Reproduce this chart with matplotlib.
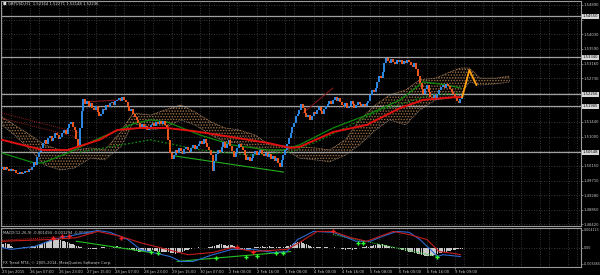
import matplotlib
matplotlib.use("Agg")
import matplotlib.pyplot as plt
import numpy as np

# ---- data (GBPUSD, H1) ----
closes = [
    1.5010, 1.5003, 1.5012, 1.5006, 1.4999,
    1.5005, 1.4998, 1.5002, 1.4994, 1.4990, 1.4996, 1.4989, 1.4993, 1.4999, 1.4995, 1.5004, 1.5001,
    1.5012, 1.5026, 1.5018, 1.5040, 1.5055, 1.5068,
    1.5082, 1.5090, 1.5078, 1.5096, 1.5101, 1.5088, 1.5095, 1.5110, 1.5104, 1.5092, 1.5099, 1.5112,
    1.5120, 1.5108, 1.5126, 1.5138, 1.5145, 1.5130, 1.5119,
    1.5092, 1.5072,
    1.5125, 1.5175, 1.5212,
    1.5198, 1.5206, 1.5190, 1.5201, 1.5185, 1.5178, 1.5190, 1.5172, 1.5160, 1.5168, 1.5182, 1.5179,
    1.5195, 1.5188, 1.5199, 1.5203, 1.5194, 1.5205, 1.5210,
    1.5214, 1.5206, 1.5216, 1.5209, 1.5202,
    1.5190, 1.5175, 1.5181, 1.5166, 1.5158, 1.5150,
    1.5142, 1.5130, 1.5137, 1.5125, 1.5133, 1.5121, 1.5128,
    1.5135, 1.5141, 1.5132, 1.5144, 1.5138, 1.5146, 1.5139, 1.5147, 1.5136, 1.5130,
    1.5090, 1.5052, 1.5034,
    1.5045, 1.5060, 1.5052, 1.5066, 1.5058, 1.5049, 1.5063, 1.5071, 1.5060, 1.5054, 1.5068, 1.5075,
    1.5065, 1.5072, 1.5080,
    1.5088, 1.5078, 1.5094, 1.5083, 1.5070, 1.5062,
    1.5045, 1.5000, 1.5030, 1.5048, 1.5062, 1.5055,
    1.5070, 1.5084, 1.5066, 1.5078, 1.5090, 1.5072, 1.5058, 1.5040, 1.5052, 1.5066, 1.5080, 1.5071, 1.5060,
    1.5045, 1.5032, 1.5040, 1.5028, 1.5036,
    1.5048, 1.5058, 1.5046, 1.5055, 1.5062, 1.5050, 1.5044, 1.5052,
    1.5040, 1.5048, 1.5035, 1.5042, 1.5030, 1.5038, 1.5022, 1.5010,
    1.5032, 1.5046, 1.5060, 1.5078, 1.5095, 1.5112, 1.5130, 1.5142, 1.5160, 1.5168,
    1.5178, 1.5196, 1.5185,
    1.5170, 1.5158, 1.5163, 1.5150, 1.5160,
    1.5172, 1.5166, 1.5180, 1.5188, 1.5175, 1.5168, 1.5182, 1.5192,
    1.5198, 1.5205, 1.5196, 1.5210, 1.5218, 1.5206, 1.5214, 1.5202,
    1.5195, 1.5188, 1.5200, 1.5184, 1.5192, 1.5205, 1.5198, 1.5186, 1.5194, 1.5202, 1.5196,
    1.5190, 1.5198, 1.5192, 1.5200, 1.5206,
    1.5224, 1.5238, 1.5232, 1.5244,
    1.5262, 1.5280, 1.5274, 1.5290,
    1.5318, 1.5332,
    1.5325, 1.5318, 1.5329, 1.5322, 1.5314, 1.5326, 1.5320, 1.5328, 1.5316, 1.5323, 1.5319, 1.5327,
    1.5320, 1.5312, 1.5306, 1.5318, 1.5300,
    1.5280, 1.5258, 1.5240, 1.5226,
    1.5240, 1.5252, 1.5232, 1.5218,
    1.5214, 1.5222, 1.5208, 1.5226,
    1.5238, 1.5246, 1.5252, 1.5244, 1.5256, 1.5250, 1.5240,
    1.5232, 1.5226,
    1.5214, 1.5205, 1.5200, 1.5212,
    1.5224,
]
first_open = 1.5005

# ichimoku cloud (bar index, senkou A, senkou B)
cloud_idx = [0, 7, 16, 24, 33, 41, 50, 58, 67, 74, 84, 92, 101, 109, 118, 126, 134, 143, 151,
             160, 168, 177, 185, 194, 202, 211, 219, 228, 236, 245, 253, 259, 264, 270, 279, 287]
span_a = [1.5158, 1.5135, 1.5105, 1.5076, 1.5061, 1.5061, 1.5067, 1.5061, 1.5114, 1.5170, 1.5164,
          1.5179, 1.5194, 1.5173, 1.5144, 1.5126, 1.5120, 1.5105, 1.5076, 1.5073, 1.5070, 1.5067,
          1.5061, 1.5091, 1.5150, 1.5194, 1.5223, 1.5238, 1.5268, 1.5273, 1.5291, 1.5303, 1.5303,
          1.5273, 1.5273, 1.5279]
span_b = [1.5135, 1.5105, 1.5061, 1.5017, 1.5002, 1.5008, 1.5037, 1.5032, 1.5070, 1.5141, 1.5120,
          1.5126, 1.5150, 1.5135, 1.5105, 1.5085, 1.5082, 1.5067, 1.5055, 1.5061, 1.5037, 1.5032,
          1.5026, 1.5046, 1.5076, 1.5120, 1.5150, 1.5135, 1.5179, 1.5209, 1.5214, 1.5223, 1.5262,
          1.5253, 1.5256, 1.5262]

# moving averages
ma_red_idx = [0, 23, 37, 55, 65, 78, 93, 108, 130, 150, 163, 168, 187, 206, 225, 238, 256, 259]
ma_red = [1.5091, 1.5061, 1.5061, 1.5091, 1.5120, 1.5126, 1.5126, 1.5117, 1.5099, 1.5082, 1.5067,
          1.5070, 1.5114, 1.5135, 1.5185, 1.5209, 1.5217, 1.5217]
ma_green_idx = [0, 18, 23, 37, 55, 74, 84, 93, 112, 130, 150, 159, 168, 187, 206, 225, 238, 251, 259]
ma_green = [1.5052, 1.5023, 1.5023, 1.5052, 1.5096, 1.5138, 1.5150, 1.5144, 1.5105, 1.5076, 1.5061,
            1.5061, 1.5076, 1.5126, 1.5164, 1.5209, 1.5262, 1.5253, 1.5244]
ma_dot_idx = [44, 84, 112, 140, 163, 180, 197, 214, 242, 259]
ma_dot = [1.5055, 1.5091, 1.5061, 1.5046, 1.5055, 1.5091, 1.5135, 1.5179, 1.5223, 1.5229]

# trend lines drawn on the chart: (start idx, start price, end idx, end price)
red_dot_lines = [(0, 1.5170, 44, 1.5111), (0, 1.5155, 42, 1.5099)]
red_lines = [(48, 1.5203, 67, 1.5209), (170, 1.5170, 187, 1.5244)]
green_lines = [(98, 1.5043, 159, 1.4996)]
zigzag_idx = [260, 264, 268]
zigzag = [1.5217, 1.5297, 1.5253]

levels = [1.54550, 1.53340, 1.52256, 1.51905, 1.50548]
price_ticks = [1.48420, 1.48850, 1.49280, 1.49710, 1.50150, 1.50570, 1.51000, 1.51440, 1.51870,
               1.52300, 1.52730, 1.53160, 1.53590, 1.54030, 1.54460, 1.54890]
hidden_ticks = [1.50570, 1.51870, 1.52300, 1.54460]  # covered by the level price boxes

time_labels = ["23 Jan 2015", "26 Jan 07:00", "26 Jan 23:00", "27 Jan 15:00", "28 Jan 07:00",
               "28 Jan 23:00", "29 Jan 15:00", "30 Jan 07:00", "2 Feb 00:00", "2 Feb 16:00",
               "3 Feb 08:00", "4 Feb 00:00", "4 Feb 16:00", "5 Feb 08:00", "6 Feb 00:00",
               "6 Feb 16:00", "9 Feb 09:00"]

# MACD(12,26,9)
macd_idx = [0, 5, 18, 29, 42, 54, 61, 71, 78, 85, 95, 101, 108, 119, 130, 142, 153, 161, 167,
            176, 187, 193, 200, 208, 215, 223, 230, 236, 242, 246, 249, 259]
macd_main = [0.0001, -0.0003, 0.0003, 0.0019, 0.0030, 0.0039, 0.0035, 0.0019, -0.0003, -0.0010,
             -0.0019, -0.0030, -0.0030, -0.0015, -0.0003, -0.0003, -0.0010, -0.0008, 0.0019,
             0.0037, 0.0035, 0.0026, 0.0015, 0.0015, 0.0026, 0.0037, 0.0035, 0.0019, -0.0003,
             -0.0019, -0.0015, -0.0019]
sig_idx = [0, 28, 42, 54, 67, 78, 93, 105, 119, 130, 142, 161, 168, 178, 187, 197, 206, 221, 230,
           240, 247, 255, 259]
macd_signal = [0.0015, 0.0019, 0.0023, 0.0037, 0.0026, 0.0012, -0.0003, -0.0015, -0.0010, 0.0001,
               -0.0008, -0.0003, 0.0012, 0.0037, 0.0037, 0.0023, 0.0015, 0.0037, 0.0030, 0.0019,
               -0.0008, -0.0012, -0.0015]
hist_e4 = [
    8, 10, 12, 10, 8,
    4, 2, 1, 0,
    -1, -2, 1, 2, 3, 2, 1, 3, 4, 5, 4, 6, 7,
    9, 11, 13, 14, 16, 17, 18, 19, 19, 18, 19, 17, 16, 15, 14, 13,
    11, 10, 8, 7, 5, 4, 3, 2,
    1, 0, -1, -2, -3, -2, -3, -2, -1,
    1, 2, 3, 2, 1, 0, -1, 1, 2, 3, 4, 3, 2, 1, 0, -1, -2, -3, -4,
    -5, -6, -7, -8, -8, -7, -6, -7, -8, -7,
    -6, -5, -6, -7, -8, -9, -10, -9, -8, -9, -10, -11, -12,
    -12, -13, -12, -11, -10, -8, -6, -5,
    -4, -3, -2, -1, 0, 1, 2, 1, 0, -1, 0, 1, 2, 3, 4, 5,
    6, 7, 8, 8, 7, 6, 5, 6, 7, 6, 5, 3, 1,
    -1, -3, -4, -5, -5, -4, -3, -1,
    1, 2, 3, 2, 3, 4, 3, 2, 3, 4, 3, 2, 1, 2, 3, 2, 1, 2, 3, 4, 5,
    7, 9, 11, 12, 13, 14, 13, 12, 10, 8, 6,
    4, 3, 2, 1, 2, 3, 2, 1, 2, 3, 2, 1, 0, 1, 2, 1, 0,
    -1, -2, -3, -4, -3, -2, -3, -4, -3, -2, -1, 0,
    1, 2, 3, 4, 3, 4, 5, 6, 7,
    8, 8, 7, 8, 7, 6, 5, 4, 3, 2, 0,
    -1, -2, -3, -4, -5, -6, -7, -8, -9, -10, -11, -12, -13, -14, -15, -16, -17, -18, -17, -18, -17,
    -16, -15, -14, -12, -11, -10, -9, -8, -7, -6, -5, -5, -4, -3, -3, -2, -2,
]
red_marks_idx = [29, 34, 38, 67, 133, 142, 187]
red_marks = [0.0023, 0.0026, 0.0026, 0.0023, 0.0003, -0.0008, 0.0039]
green_marks_idx = [84, 88, 121, 138, 144, 155, 159, 201, 204, 246]
green_marks = [-0.0010, -0.0012, -0.0023, -0.0019, -0.0017, -0.0012, -0.0012, 0.0012, 0.0012, -0.0019]
macd_green_lines = [(42, 0.0015, 84, -0.0010), (99, -0.0030, 163, -0.0008)]
macd_green_dot = [(187, 0.0030, 246, -0.0019)]
macd_red_dot = [(0, 0.0017, 38, 0.0026)]

# ---- drawing ----
W, H = 600, 275
BG = "black"
GRID = "#4a4a4a"
TXT = "#c8c8c8"
FS = 2.7

plt.rcParams["hatch.linewidth"] = 0.7

fig = plt.figure(figsize=(6, 2.75), dpi=100, facecolor=BG)
ax = fig.add_axes([1 / W, 1 - 226 / H, 580 / W, 225 / H], facecolor=BG)
axm = fig.add_axes([1 / W, 1 - 267 / H, 580 / W, 39 / H], facecolor=BG)

xmin, xmax = -0.6, 327.1
bars = np.arange(len(closes))
closes = np.array(closes)
opens = np.concatenate([[first_open], closes[:-1]])
up = closes >= opens

for a in (ax, axm):
    a.set_xlim(xmin, xmax)
    for s in a.spines.values():
        s.set_color("#9a9a9a")
        s.set_linewidth(0.8)
    a.yaxis.tick_right()
    a.tick_params(axis="y", colors="#9a9a9a", labelcolor=TXT, labelsize=FS, length=1.2, width=0.5, pad=0.8)
    vgrid = sorted(list(range(0, 330, 16)) + list(range(5, 330, 16)))
    for v in vgrid:
        a.axvline(v, color=GRID, lw=0.6, ls=(0, (1, 2)), zorder=0)

ax.set_ylim(1.48368, 1.55006)
ax.set_yticks(price_ticks)
ax.set_yticklabels(["" if t in hidden_ticks else f"{t:.5f}" for t in price_ticks])
for t in price_ticks:
    ax.axhline(t, color=GRID, lw=0.6, ls=(0, (1, 2)), zorder=0)
ax.set_xticks([])

# cloud
ax.fill_between(cloud_idx, span_a, span_b, facecolor="none", edgecolor="#9c7046",
                hatch="......", linewidth=0, zorder=1)
ax.plot(cloud_idx, span_a, color="#c89868", lw=0.6, ls=(0, (1, 1)), zorder=1)
ax.plot(cloud_idx, span_b, color="#a08878", lw=0.6, ls=(0, (1, 1)), zorder=1)

# level lines
for lv in levels:
    ax.axhline(lv, color="#a0a0a0", lw=0.9, zorder=2)

# trend lines
for x0, y0, x1, y1 in red_dot_lines:
    ax.plot([x0, x1], [y0, y1], color="#8b1a1a", lw=0.7, ls=(0, (1, 1)), zorder=2)
for x0, y0, x1, y1 in red_lines:
    ax.plot([x0, x1], [y0, y1], color="#8b1a1a", lw=0.7, zorder=2)
for x0, y0, x1, y1 in green_lines:
    ax.plot([x0, x1], [y0, y1], color="#22b022", lw=0.8, zorder=2)

# moving averages
ax.plot(ma_green_idx, ma_green, color="#0c8a0c", lw=0.9, zorder=3)
ax.plot(ma_dot_idx, ma_dot, color="#0c8a0c", lw=0.9, ls=(0, (1.5, 1.5)), zorder=3)

# candles
ax.vlines(bars, opens, closes, colors=np.where(up, "#2d8ae6", "#f0581c"), lw=1.4, zorder=4)
ax.plot(ma_red_idx, ma_red, color="#e01010", lw=1.4, zorder=5)
ax.plot(zigzag_idx, zigzag, color="#ffa010", lw=1.3, zorder=5)

# highlighted level prices on the axis
for lv in levels:
    ax.text(1.003, lv, f"{lv:.5f}", transform=ax.get_yaxis_transform(), fontsize=FS, color="black",
            va="center", ha="left", clip_on=False,
            bbox=dict(boxstyle="square,pad=0.15", fc="#d8d8d8", ec="none"), zorder=10)

# MACD window
axm.set_ylim(-0.00424, 0.00446)
axm.set_yticks([-0.003465, 0.0, 0.004123])
axm.set_yticklabels(["-0.003465", "0.00", "0.004123"])
axm.tick_params(axis="y", labelsize=2.3, pad=0.5)
axm.axhline(0, color=GRID, lw=0.6, ls=(0, (1, 2)), zorder=0)
axm.bar(bars, np.array(hist_e4) * 1e-4, width=0.75, color="#c8c8c8", zorder=2)
for x0, y0, x1, y1 in macd_red_dot:
    axm.plot([x0, x1], [y0, y1], color="#d01818", lw=0.7, ls=(0, (1, 1)), zorder=3)
for x0, y0, x1, y1 in macd_green_lines:
    axm.plot([x0, x1], [y0, y1], color="#22c022", lw=0.8, zorder=3)
for x0, y0, x1, y1 in macd_green_dot:
    axm.plot([x0, x1], [y0, y1], color="#22c022", lw=0.8, ls=(0, (1, 1)), zorder=3)
axm.plot(macd_idx, macd_main, color="#2a6ad0", lw=0.8, zorder=4)
axm.plot(sig_idx, macd_signal, color="#c41c1c", lw=0.8, zorder=4)
axm.plot(red_marks_idx, red_marks, ls="none", marker="P", ms=3, color="#ff2020", mew=0, zorder=5)
axm.plot(green_marks_idx, green_marks, ls="none", marker="P", ms=3, color="#30ff30", mew=0, zorder=5)

axm.set_xticks(np.arange(len(time_labels)) * 16)
axm.set_xticklabels(time_labels, ha="left")
axm.tick_params(axis="x", colors="#9a9a9a", labelcolor=TXT, labelsize=FS, length=1.5, width=0.5, pad=0.8)

axm.text(0.004, 0.93, "MACD(12,26,9) -0.001494 -0.001294 -0.000200", transform=axm.transAxes,
         fontsize=FS, color=TXT, va="top", ha="left")
axm.text(0.004, 0.04, "FX Trend MT4, \u00a9 2005-2014, MetaQuotes Software Corp.", transform=axm.transAxes,
         fontsize=FS, color=TXT, va="bottom", ha="left")

# chart title
fig.text(3 / W, 1 - 4 / H, "\u25a0", fontsize=FS, color="#dddddd", va="center", ha="left")
fig.text(8 / W, 1 - 4 / H, "GBPUSD,H1  1.52164 1.52271 1.52148 1.52236", fontsize=FS,
         color="#dddddd", va="center", ha="left")

fig.savefig("out.png", dpi=100, facecolor=BG)
